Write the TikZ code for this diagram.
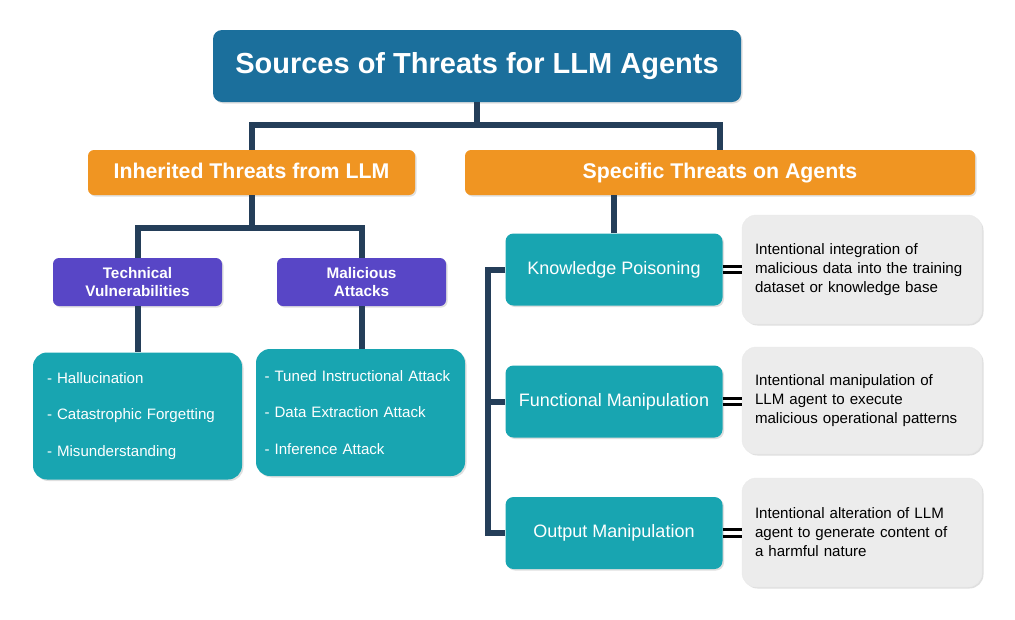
\documentclass[tikz,border=0pt]{standalone}
\usepackage{fontspec}
\setmainfont{Liberation Sans}
\usetikzlibrary{shadows}

\definecolor{topblue}{RGB}{27,111,156}
\definecolor{orangebox}{RGB}{240,149,34}
\definecolor{purplebox}{RGB}{88,70,198}
\definecolor{tealbox}{RGB}{24,165,177}
\definecolor{greybox}{RGB}{236,236,236}
\definecolor{navyline}{RGB}{36,62,89}

\begin{document}
\begin{tikzpicture}[x=1pt, y=-1pt,
    every node/.style={inner sep=0, text=white},
    box/.style={rounded corners=6pt, drop shadow={opacity=0.25, shadow xshift=1.5pt, shadow yshift=-1.5pt}},
    link/.style={navyline, line width=6pt},
    eqline/.style={black, line width=2.8pt}]
  \useasboundingbox (0,0) rectangle (1015,619);

  % Root and first level
  \node[box, fill=topblue, rounded corners=9pt, minimum width=528, minimum height=72,
    font=\bfseries\fontsize{29}{33}\selectfont] (root) at (477,66) {Sources of Threats for LLM Agents};
  \node[box, fill=orangebox, minimum width=327, minimum height=45, text height=15.5pt, text depth=4.5pt,
    font=\bfseries\fontsize{21.3}{25}\selectfont] (inherit) at (251.5,172.5) {Inherited Threats from LLM};
  \node[box, fill=orangebox, minimum width=510, minimum height=45, text height=15.5pt, text depth=4.5pt,
    font=\bfseries\fontsize{21.3}{25}\selectfont] (specific) at (720,172.5) {Specific Threats on Agents};

  % Inherited threats
  \node[box, fill=purplebox, minimum width=169, minimum height=48, align=center,
    font=\bfseries\fontsize{15.3}{18.5}\selectfont] (techvul) at (137.5,282) {Technical\\Vulnerabilities};
  \node[box, fill=purplebox, minimum width=169, minimum height=48, align=center,
    font=\bfseries\fontsize{15.3}{18.5}\selectfont] (malatk) at (361.5,282) {Malicious\\Attacks};

  \foreach \name/\cx/\cy/\tw/\items in {
      techlist/137.5/416/181/{- Hallucination\\[18pt]- Catastrophic Forgetting\\[18pt]- Misunderstanding},
      mallist/360.5/412.5/192/{- Tuned Instructional Attack\\[18pt]- Data Extraction Attack\\[18pt]- Inference Attack}} {
    \node[box, fill=tealbox, rounded corners=14pt, minimum width=209, minimum height=127,
      text width=\tw, align=left, font=\fontsize{15.1}{18.5}\selectfont] (\name) at (\cx,\cy) {\items};
  }

  % Specific threats and their descriptions
  \foreach \name/\cy/\label/\gy/\gh/\desc in {
      poison/269.5/Knowledge Poisoning/269.5/109/{Intentional integration of\\malicious data into the training\\dataset or knowledge base},
      funcman/401.5/Functional Manipulation/400.5/107/{Intentional manipulation of\\LLM agent to execute\\malicious operational patterns},
      outman/533/Output Manipulation/532.5/109/{Intentional alteration of LLM\\agent to generate content of\\a harmful nature}} {
    \node[box, fill=tealbox, rounded corners=8pt, minimum width=217, minimum height=72,
      font=\fontsize{18}{21}\selectfont] (\name) at (614,\cy) {\label};
    \node[box, fill=greybox, draw=black!8, rounded corners=14pt, minimum width=240, minimum height=\gh,
      text=black, text width=214, align=left, font=\fontsize{15.1}{19}\selectfont] (\name desc) at (862,\gy) {\desc};
    \draw[eqline] ([yshift=3.2pt]\name.east) -- ([yshift=3.2pt]\name.east -| \name desc.west);
    \draw[eqline] ([yshift=-3.2pt]\name.east) -- ([yshift=-3.2pt]\name.east -| \name desc.west);
  }

  % Tree links
  \draw[link] (root.south) -- ++(0,23) -| (inherit.north);
  \draw[link] (root.south) -- ++(0,23) -| (specific.north);
  \draw[link] (inherit.south) -- ++(0,33) -| (techvul.north);
  \draw[link] (inherit.south) -- ++(0,33) -| (malatk.north);
  \draw[link] (techvul.south) -- (techvul.south |- techlist.north);
  \draw[link] (malatk.south) -- (malatk.south |- mallist.north);
  \draw[link] (poison.north) -- (poison.north |- specific.south);
  \draw[link] (poison.west) -- ++(-17,0) |- (outman.west);
  \draw[link] (funcman.west) -- ++(-20,0);
\end{tikzpicture}
\end{document}
